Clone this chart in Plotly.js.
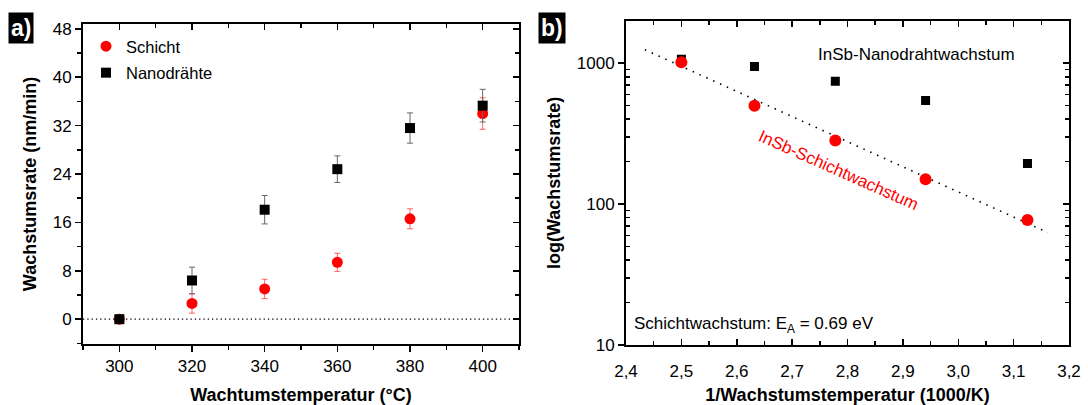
<!DOCTYPE html>
<html>
<head>
<meta charset="utf-8">
<script src="https://cdn.plot.ly/plotly-3.0.1.min.js"></script>
<style>html,body{margin:0;padding:0;background:#fff}#chart{width:1088px;height:405px}</style>
</head>
<body>
<div id="chart"></div>
<script>
// ---- Panel a data ----
const tempC = [300, 320, 340, 360, 380, 400];
const schichtRate = [0, 2.6, 5.0, 9.4, 16.6, 34.0];
const schichtErr = [0.5, 1.6, 1.6, 1.5, 1.65, 2.6];
const nanoRate = [0, 6.4, 18.1, 24.8, 31.6, 35.3];
const nanoErr = [0, 2.2, 2.35, 2.2, 2.5, 2.7];
const xTicksA = [300, 320, 340, 360, 380, 400];
const yTicksA = [0, 8, 16, 24, 32, 40, 48];

// ---- Panel b data ----
const invT = [2.5, 2.632, 2.778, 2.941, 3.125];
const nanoLog = [1067, 948, 745, 544, 194];
const schichtLog = [1015, 499, 283, 150, 77];
const fitX = [2.434, 3.162];
const fitY = [1245, 62.7];
const xTicksB = [2.4, 2.5, 2.6, 2.7, 2.8, 2.9, 3.0, 3.1, 3.2];
const xTickTextB = ["2,4", "2,5", "2,6", "2,7", "2,8", "2,9", "3,0", "3,1", "3,2"];
const yTicksB = [10, 100, 1000];
const yTickTextB = ["10", "100", "1000"];
const yMinorB = [20, 30, 40, 50, 60, 70, 80, 90, 200, 300, 400, 500, 600, 700, 800, 900, 2000];

const FONT = "Liberation Sans, Arial, Helvetica, sans-serif";
const RED = "#ff0000";

const traces = [
  {x: tempC, y: schichtRate, name: "Schicht", type: "scatter", mode: "markers",
   legendgroup: "g1",
   marker: {symbol: "circle", size: 11, color: RED},
   error_y: {type: "data", array: schichtErr, visible: true, color: "rgba(255,0,0,0.6)", thickness: 1, width: 3},
   xaxis: "x", yaxis: "y"},
  {x: tempC, y: nanoRate, name: "Nanodrähte", type: "scatter", mode: "markers",
   legendgroup: "g2",
   marker: {symbol: "square", size: 10, color: "#000"},
   error_y: {type: "data", array: nanoErr, visible: true, color: "#666", thickness: 1, width: 3},
   xaxis: "x", yaxis: "y"},
  // mirror axes helpers (panel a)
  {x: [], y: [], xaxis: "x3", yaxis: "y", showlegend: false, hoverinfo: "skip", type: "scatter"},
  {x: [], y: [], xaxis: "x", yaxis: "y3", showlegend: false, hoverinfo: "skip", type: "scatter"},
  // panel b
  {x: fitX, y: fitY, type: "scatter", mode: "lines", showlegend: false,
   line: {color: "#000", dash: "1.5px,6px", width: 1.6}, xaxis: "x2", yaxis: "y2"},
  {x: invT, y: nanoLog, type: "scatter", mode: "markers", showlegend: false,
   marker: {symbol: "square", size: 9, color: "#000"}, xaxis: "x2", yaxis: "y2"},
  {x: invT, y: schichtLog, type: "scatter", mode: "markers", showlegend: false,
   marker: {symbol: "circle", size: 12, color: RED}, xaxis: "x2", yaxis: "y2"},
  {x: [], y: [], xaxis: "x4", yaxis: "y2", showlegend: false, hoverinfo: "skip", type: "scatter"},
  {x: [], y: [], xaxis: "x2", yaxis: "y4", showlegend: false, hoverinfo: "skip", type: "scatter"}
];

const W = 1088, H = 405;
const domA_x = [83 / W, 519 / W], domA_y = [1 - 344 / H, 1 - 24 / H];
const domB_x = [626 / W, 1069 / W], domB_y = [1 - 345 / H, 1 - 20.7 / H];
const tickFont = {family: FONT, size: 17, color: "#000"};
const titleFont = {family: FONT, size: 18, color: "#000", weight: "bold"};
const baseAx = {showline: true, linecolor: "#000", linewidth: 2, showgrid: false, zeroline: false,
  tickcolor: "#000", tickwidth: 1.5, tickfont: tickFont, automargin: false};

const rangeAx = [290, 410], rangeAy = [-4.1, 48.8];
const rangeBx = [2.4, 3.2], rangeBy = [1, Math.log10(2000)];

const layout = {
  width: W, height: H,
  margin: {l: 0, r: 0, t: 0, b: 0},
  paper_bgcolor: "#fff", plot_bgcolor: "#fff",
  font: {family: FONT, color: "#000"},
  showlegend: true,
  legend: {x: 86 / W, y: 1 - 29 / H, xanchor: "left", yanchor: "top",
    bgcolor: "rgba(0,0,0,0)", font: {family: FONT, size: 16.5, color: "#000"},
    tracegroupgap: 2, itemclick: false},
  xaxis: Object.assign({}, baseAx, {domain: domA_x, anchor: "y", range: rangeAx,
    tickmode: "array", tickvals: xTicksA, ticks: "outside", ticklen: 6,
    minor: {dtick: 10, tick0: 300, ticks: "outside", ticklen: 4, tickwidth: 1.5, tickcolor: "#000"},
    title: {text: "Wachtumstemperatur (°C)", font: titleFont, standoff: 17}}),
  yaxis: Object.assign({}, baseAx, {domain: domA_y, anchor: "x", range: rangeAy,
    tickmode: "array", tickvals: yTicksA, ticks: "outside", ticklen: 6,
    minor: {dtick: 4, tick0: 0, ticks: "outside", ticklen: 4, tickwidth: 1.5, tickcolor: "#000"},
    title: {text: "Wachstumsrate (nm/min)", font: titleFont, standoff: 11}}),
  xaxis3: Object.assign({}, baseAx, {overlaying: "x", side: "top", anchor: "y", range: rangeAx,
    tickmode: "array", tickvals: xTicksA, ticks: "inside", ticklen: 6, showticklabels: false,
    minor: {dtick: 10, tick0: 300, ticks: "inside", ticklen: 4, tickwidth: 1.5, tickcolor: "#000"}}),
  yaxis3: Object.assign({}, baseAx, {overlaying: "y", side: "right", anchor: "x", range: rangeAy,
    tickmode: "array", tickvals: yTicksA, ticks: "inside", ticklen: 6, showticklabels: false,
    minor: {dtick: 4, tick0: 0, ticks: "inside", ticklen: 4, tickwidth: 1.5, tickcolor: "#000"}}),
  xaxis2: Object.assign({}, baseAx, {domain: domB_x, anchor: "y2", range: rangeBx,
    tickmode: "array", tickvals: xTicksB, ticktext: xTickTextB, ticks: "inside", ticklen: 6,
    ticklabelstandoff: 10,
    minor: {dtick: 0.05, tick0: 2.4, ticks: "inside", ticklen: 4, tickwidth: 1.5, tickcolor: "#000"},
    title: {text: "1/Wachstumstemperatur (1000/K)", font: titleFont, standoff: 16}}),
  yaxis2: Object.assign({}, baseAx, {domain: domB_y, anchor: "x2", type: "log", range: rangeBy,
    tickmode: "array", tickvals: yTicksB, ticktext: yTickTextB, ticks: "outside", ticklen: 6,
    minor: {tickmode: "array", tickvals: yMinorB, ticks: "inside", ticklen: 4, tickwidth: 1.5, tickcolor: "#000"},
    title: {text: "log(Wachstumsrate)", font: titleFont, standoff: 11}}),
  xaxis4: Object.assign({}, baseAx, {overlaying: "x2", side: "top", anchor: "y2", range: rangeBx,
    tickmode: "array", tickvals: xTicksB, ticks: "inside", ticklen: 6, showticklabels: false,
    minor: {dtick: 0.05, tick0: 2.4, ticks: "inside", ticklen: 4, tickwidth: 1.5, tickcolor: "#000"}}),
  yaxis4: Object.assign({}, baseAx, {overlaying: "y2", side: "right", anchor: "x2", type: "log", range: rangeBy,
    tickmode: "array", tickvals: yTicksB, ticks: "inside", ticklen: 6, showticklabels: false,
    minor: {tickmode: "array", tickvals: yMinorB, ticks: "inside", ticklen: 4, tickwidth: 1.5, tickcolor: "#000"}}),
  shapes: [
    {type: "line", xref: "x domain", x0: 0, x1: 1, yref: "y", y0: 0, y1: 0,
     line: {color: "#000", width: 1.3, dash: "1.3px,3px"}}
  ],
  annotations: [
    {text: "<b>a)</b>", xref: "paper", yref: "paper", x: 8 / W, y: 1 - 12 / H, xanchor: "left", yanchor: "top",
     showarrow: false, bgcolor: "#000", font: {family: FONT, size: 23, color: "#fff"}, borderpad: 2},
    {text: "<b>b)</b>", xref: "paper", yref: "paper", x: 538 / W, y: 1 - 12 / H, xanchor: "left", yanchor: "top",
     showarrow: false, bgcolor: "#000", font: {family: FONT, size: 23, color: "#fff"}, borderpad: 2},
    {text: "InSb-Nanodrahtwachstum", xref: "x2", yref: "y2", x: 2.925, y: 3.062,
     showarrow: false, font: {family: FONT, size: 17, color: "#000"}},
    {text: "InSb-Schichtwachstum", xref: "x2", yref: "y2", x: 2.784, y: 2.239, textangle: 24,
     showarrow: false, font: {family: FONT, size: 17, color: RED}},
    {text: "Schichtwachstum: E<sub>A</sub> = 0.69 eV", xref: "x2", yref: "y2", x: 2.41, y: 1.142,
     xanchor: "left", showarrow: false, font: {family: FONT, size: 17, color: "#000"}}
  ]
};

Plotly.newPlot("chart", traces, layout, {displayModeBar: false, staticPlot: true});
</script>
</body>
</html>
